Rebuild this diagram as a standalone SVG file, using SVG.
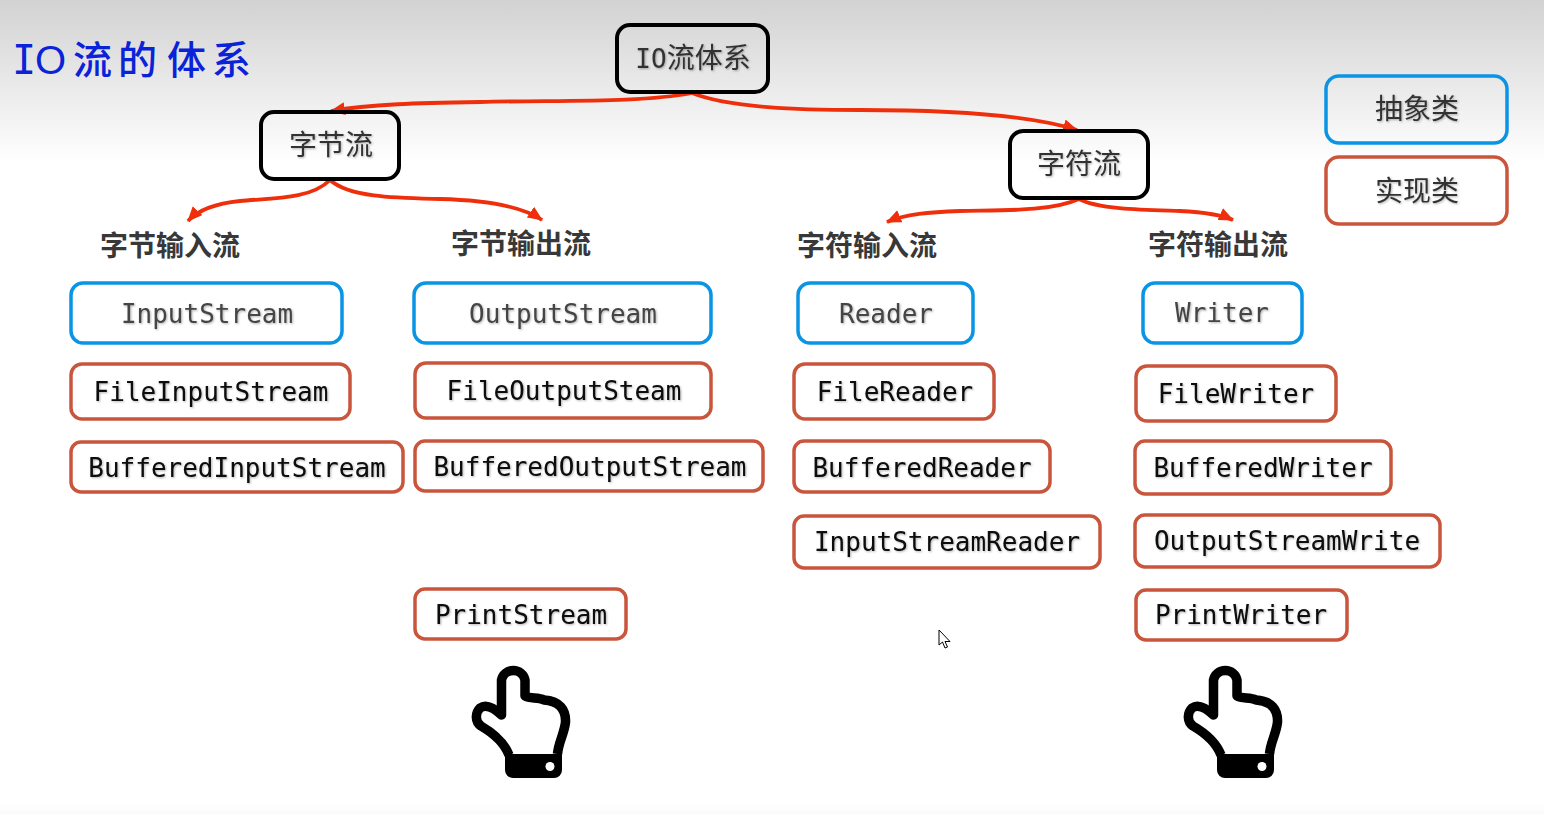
<svg xmlns="http://www.w3.org/2000/svg" width="1544" height="814" viewBox="0 0 1544 814">
<style>
.b{fill:none;stroke:#000;stroke-width:4}
.a{fill:none;stroke:#0a94e4;stroke-width:3.5}
.i{fill:none;stroke:#c9553c;stroke-width:3.5}
.m{font-family:"DejaVu Sans Mono","Liberation Mono",monospace;font-size:26px;text-anchor:middle;filter:url(#s)}
.g{fill:#444}
.k{fill:#080808}
.c{font-family:"Noto Sans CJK SC","Noto Sans",sans-serif;font-size:28px;fill:#333;text-anchor:middle;filter:url(#s)}
.h{font-family:"Noto Sans CJK SC","Noto Sans",sans-serif;font-size:28px;font-weight:700;fill:#383838;text-anchor:middle}
.l{fill:none;stroke:#ef2f0c;stroke-width:3.8;marker-end:url(#t)}
</style>
<defs>
<linearGradient id="bg" x1="0" y1="0" x2="0" y2="1">
<stop offset="0" stop-color="#d2d2d2"/><stop offset="0.2" stop-color="#fff"/><stop offset="0.985" stop-color="#fff"/><stop offset="1" stop-color="#fafafa"/>
</linearGradient>
<filter id="s" x="-5%" y="-20%" width="110%" height="140%"><feDropShadow dx="1" dy="1" stdDeviation="0.8" flood-color="#000" flood-opacity="0.3"/></filter>
<marker id="t" markerUnits="userSpaceOnUse" markerWidth="16" markerHeight="14" refX="14" refY="6.5" orient="auto"><path d="M0,0L15,6.5L0,13Z" fill="#ef2f0c"/></marker>
<g id="hand">
<path d="M509,755C504,742 493,733 481,726C475,722 475,713 480,708C487,703 495,709 501.500,715V680A12,12 0 0 1 525,680V696C530,699 538,697 544,700C560,701 566,710 565.500,722C564.500,733 558.500,742 557.500,754" fill="#fff" stroke="#000" stroke-width="9.500" stroke-linejoin="round"/>
<path d="M505,754H562V770A8,8 0 0 1 554,778H513A8,8 0 0 1 505,770Z" fill="#000"/>
<circle cx="550" cy="766.500" r="4.500" fill="#fff"/>
</g>
</defs>
<rect width="1544" height="814" fill="url(#bg)"/>
<text font-family="'Noto Sans CJK SC',sans-serif" font-size="39" font-weight="500" fill="#0a22d8" y="74"><tspan font-family="'DejaVu Sans Mono',monospace" font-size="40" x="12">I</tspan><tspan font-family="'Liberation Sans',sans-serif" font-size="40" x="35">O</tspan><tspan x="73">流</tspan><tspan x="118">的</tspan><tspan x="167">体</tspan><tspan x="212">系</tspan></text>
<g id="connectors">
<path class="l" d="M692,93C640,103 560,100 480,102C420,103 370,104 331,111"/>
<path class="l" d="M692,93C730,108 800,110 860,110C950,110 1030,115 1077,130"/>
<path class="l" d="M330,180C310,200 270,198 240,201C220,203 200,208 188,221"/>
<path class="l" d="M330,180C350,198 400,198 440,199C480,200 520,205 542,220"/>
<path class="l" d="M1079,199C1050,212 1000,210 960,211C930,212 905,214 887,222"/>
<path class="l" d="M1079,199C1100,210 1150,210 1180,211C1200,212 1220,214 1233,220"/>
</g>
<g id="n-root"><rect class="b" x="617" y="25" width="151" height="67" rx="13"/><text class="c" x="693" y="68"><tspan font-family="'DejaVu Sans Mono',monospace" font-size="26">IO</tspan>流体系</text></g>
<g id="n-byte"><rect class="b" x="261" y="112" width="138" height="67" rx="13"/><text class="c" x="331" y="155">字节流</text></g>
<g id="n-char"><rect class="b" x="1010" y="131" width="138" height="67" rx="13"/><text class="c" x="1079" y="174">字符流</text></g>
<g id="n-abs"><rect class="a" x="1326" y="76" width="181" height="67" rx="13"/><text class="c" x="1417" y="119">抽象类</text></g>
<g id="n-impl"><rect class="i" x="1326" y="157" width="181" height="67" rx="13"/><text class="c" x="1417" y="201">实现类</text></g>
<g id="h1"><text class="h" x="170" y="256">字节输入流</text></g>
<g id="h2"><text class="h" x="521" y="254">字节输出流</text></g>
<g id="h3"><text class="h" x="867" y="256">字符输入流</text></g>
<g id="h4"><text class="h" x="1218" y="255">字符输出流</text></g>
<g id="n1"><rect class="a" x="71" y="283" width="271" height="60" rx="12"/><text class="m g" x="207" y="323">InputStream</text></g>
<g id="n2"><rect class="i" x="71" y="364" width="279" height="55" rx="11"/><text class="m k" x="211" y="401">FileInputStream</text></g>
<g id="n3"><rect class="i" x="71" y="442" width="332" height="50" rx="10"/><text class="m k" x="237" y="477">BufferedInputStream</text></g>
<g id="n4"><rect class="a" x="414" y="283" width="297" height="60" rx="12"/><text class="m g" x="563" y="323">OutputStream</text></g>
<g id="n5"><rect class="i" x="415" y="363" width="296" height="55" rx="11"/><text class="m k" x="564" y="400">FileOutputSteam</text></g>
<g id="n6"><rect class="i" x="415" y="441" width="348" height="50" rx="10"/><text class="m k" x="590" y="476">BufferedOutputStream</text></g>
<g id="n7"><rect class="i" x="415" y="589" width="211" height="50" rx="10"/><text class="m k" x="521" y="624">PrintStream</text></g>
<g id="n8"><rect class="a" x="798" y="283" width="175" height="60" rx="12"/><text class="m g" x="886" y="323">Reader</text></g>
<g id="n9"><rect class="i" x="794" y="364" width="200" height="55" rx="11"/><text class="m k" x="895" y="401">FileReader</text></g>
<g id="n10"><rect class="i" x="794" y="441" width="256" height="51" rx="10"/><text class="m k" x="922" y="477">BufferedReader</text></g>
<g id="n11"><rect class="i" x="794" y="516" width="306" height="52" rx="10"/><text class="m k" x="947" y="551">InputStreamReader</text></g>
<g id="n12"><rect class="a" x="1143" y="283" width="159" height="60" rx="12"/><text class="m g" x="1222" y="322">Writer</text></g>
<g id="n13"><rect class="i" x="1136" y="366" width="200" height="55" rx="11"/><text class="m k" x="1236" y="403">FileWriter</text></g>
<g id="n14"><rect class="i" x="1135" y="441" width="256" height="53" rx="10"/><text class="m k" x="1263" y="477">BufferedWriter</text></g>
<g id="n15"><rect class="i" x="1135" y="515" width="305" height="52" rx="10"/><text class="m k" x="1287" y="550">OutputStreamWrite</text></g>
<g id="n16"><rect class="i" x="1136" y="590" width="211" height="50" rx="10"/><text class="m k" x="1241" y="624">PrintWriter</text></g>
<use href="#hand"/>
<use href="#hand" x="712"/>
<path d="M939,630V645L942.500,642L945,648L947.500,647L945,641.500H950Z" fill="#fff" stroke="#000" stroke-width="1"/>
</svg>
